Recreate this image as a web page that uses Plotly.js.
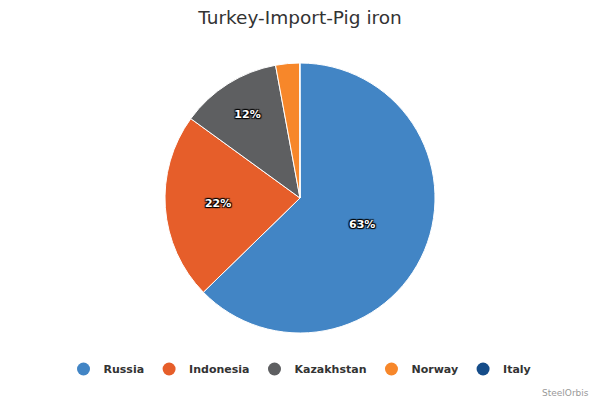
<!DOCTYPE html>
<html>
<head>
<meta charset="utf-8">
<script src="https://cdn.plot.ly/plotly-3.0.1.min.js"></script>
<style>
  html, body { margin: 0; padding: 0; background: #fff; }
  #graphDiv { width: 600px; height: 400px; }
</style>
</head>
<body>
<div id="graphDiv"></div>
<script>
// share of imports (percent)
const countries = ["Russia", "Indonesia", "Kazakhstan", "Norway", "Italy"];
const shares = [62.7, 22.3, 12.1, 2.85, 0.05];
const sliceLabels = ["63%", "22%", "12%", "", ""];
const colors = ["#4285c5", "#e65e2a", "#5e5f61", "#f7872a", "#154c89"];

const font = "DejaVu Sans, Verdana, sans-serif";

function legend_traces() {
    return countries.map((c, i) => ({
        x: [null], y: [null],
        type: "scatter",
        mode: "markers",
        name: c,
        marker: {symbol: "circle", size: 13, color: colors[i]},
        showlegend: true,
        hoverinfo: "skip"
    }));
}

const pie = {
    type: "pie",
    labels: countries,
    values: shares,
    text: sliceLabels,
    textinfo: "text",
    textposition: "inside",
    insidetextorientation: "horizontal",
    sort: false,
    direction: "clockwise",
    rotation: 0,
    showlegend: false,
    marker: {colors: colors, line: {color: "#ffffff", width: 1}},
    textfont: {family: font, size: 11, color: "#ffffff", weight: "bold",
               shadow: "1px 1px 1px #000, -1px -1px 1px #000, 1px -1px 1px #000, -1px 1px 1px #000"},
    domain: {x: [0, 1], y: [0.1675, 0.8425]},
    hoverinfo: "label+percent"
};

const layout = {
    width: 600,
    height: 400,
    margin: {l: 0, r: 0, t: 0, b: 0},
    paper_bgcolor: "#ffffff",
    plot_bgcolor: "#ffffff",
    font: {family: font, color: "#333333"},
    title: {
        text: "Turkey-Import-Pig iron",
        font: {family: font, size: 18.5, color: "#333333"},
        x: 0.5, xanchor: "center",
        y: 0.955, yanchor: "middle", yref: "container"
    },
    xaxis: {visible: false, fixedrange: true},
    yaxis: {visible: false, fixedrange: true},
    showlegend: true,
    legend: {
        orientation: "h",
        x: 0.5, xanchor: "center",
        y: 0.0775, yanchor: "middle",
        font: {family: font, size: 11, color: "#333333", weight: "bold"},
        itemclick: false,
        itemdoubleclick: false
    },
    annotations: [{
        text: "SteelOrbis",
        xref: "paper", yref: "paper",
        x: 0.985, y: 0.0,
        xanchor: "right", yanchor: "bottom",
        showarrow: false,
        font: {family: font, size: 9, color: "#999999"}
    }]
};

Plotly.newPlot("graphDiv", [pie].concat(legend_traces()), layout, {displayModeBar: false});
</script>
</body>
</html>
